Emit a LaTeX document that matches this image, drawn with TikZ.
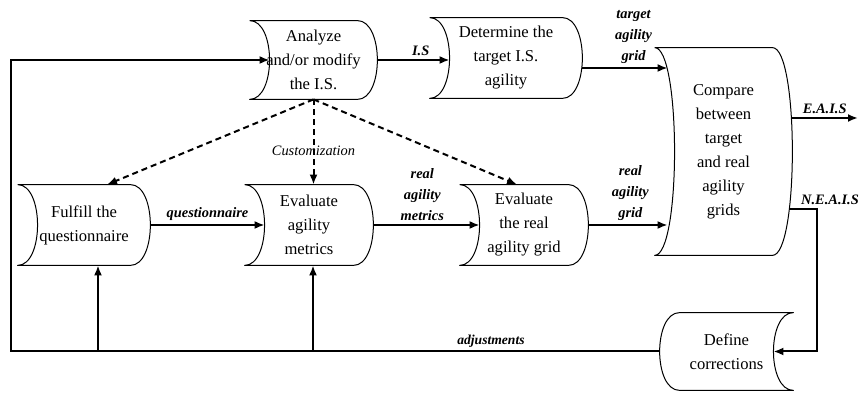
\documentclass[tikz,border=0pt]{standalone}
\usepackage{fontspec}
\setmainfont{Liberation Serif}
\usetikzlibrary{arrows.meta}
\begin{document}
\begin{tikzpicture}[x=0.5pt,y=-0.5pt]
\def\bend{10pt}
\def\ctl{13.3pt}
\tikzset{base/.style={inner ysep=0pt,inner xsep=-12pt},
proc/.style={base,align=center,font=\fontsize{8.3}{12}\selectfont},
outline/.style={draw,line width=0.5pt,line join=round},
every path/.style={>={Latex[length=5pt,width=4pt]}},
flow/.style={->,line width=1pt},
cust/.style={flow,dash pattern=on 3pt off 2pt},
lbl/.style={font=\fontsize{7.2}{10.5}\selectfont\bfseries\itshape,align=center,inner sep=1.5pt}}
\useasboundingbox (0,0) rectangle (860,394);
\node[proc,minimum width=43.5pt,minimum height=39pt] at (313.5,60) (ana) {Analyze\\and/or modify\\the I.S.};
\node[proc,minimum width=56pt,minimum height=40pt] at (506,58) (det) {Determine the\\target I.S.\\agility};
\node[proc,minimum width=48.5pt,minimum height=103.5pt] at (723.5,151.5) (cmp) {Compare\\between\\target\\and real\\agility\\grids};
\node[proc,minimum width=46pt,minimum height=40pt] at (84,225) (ful) {Fulfill the\\questionnaire};
\node[proc,minimum width=44pt,minimum height=40pt] at (309,225) (evm) {Evaluate\\agility\\metrics};
\node[proc,minimum width=44pt,minimum height=40pt] at (524,225) (evg) {Evaluate\\the real\\agility grid};
\node[proc,minimum width=46.5pt,minimum height=38.5pt] at (726.5,351.5) (def) {Define\\corrections};
% outlines
\foreach \n in {ana,det,cmp,ful,evm,evg}
\draw[outline] ([xshift=-\bend]\n.north west) -- (\n.north east)
  .. controls +(\ctl,0) and +(\ctl,0) .. (\n.south east)
  -- ([xshift=-\bend]\n.south west)
  .. controls +(\ctl,0) and +(\ctl,0) .. ([xshift=-\bend]\n.north west);
\draw[outline] (def.north west) -- ([xshift=\bend]def.north east)
  .. controls +(-\ctl,0) and +(-\ctl,0) .. ([xshift=\bend]def.south east)
  -- (def.south west)
  .. controls +(-\ctl,0) and +(-\ctl,0) .. (def.north west);
\coordinate (adjL) at (11,351.5);
\coordinate (eais) at (858,118);
\coordinate (neais) at (817,209);
% flows
\draw[flow] ([xshift=\bend]ana.east) -- node[lbl,above,pos=.6]{I.S} (ana.east -| det.west);
\draw[flow] ([xshift=\bend,yshift=-5pt]det.east) -- node[lbl,above,pos=.6]{target\\agility\\grid} ([xshift=-3.5pt,yshift=-5pt]det.east -| cmp.west);
\draw[flow] ([xshift=\bend]ful.east) -- node[lbl,above]{questionnaire} (evm.west);
\draw[flow] ([xshift=\bend]evm.east) -- node[lbl,above,pos=.46]{real\\agility\\metrics} (evg.west);
\draw[flow] ([xshift=\bend]evg.east) -- node[lbl,above,pos=.53]{real\\agility\\grid} ([xshift=-3.5pt]evg.east -| cmp.west);
\draw[flow] ([xshift=9.5pt]cmp.east |- eais) -- node[lbl,above]{E.A.I.S} (eais);
\draw[flow] ([xshift=8.5pt]cmp.east |- neais) -- (neais) node[lbl,above,xshift=6.5pt]{N.E.A.I.S} |- (def.east);
\draw[flow] ([xshift=-\bend]def.west) -- node[lbl,above,pos=.26,font=\fontsize{6.8}{9}\selectfont\bfseries\itshape]{adjustments} (adjL) |- (ana.west);
\draw[flow] ([xshift=7pt]ful.south |- adjL) -- ([xshift=7pt]ful.south);
\draw[flow] ([xshift=2pt]evm.south |- adjL) -- ([xshift=2pt]evm.south);
% customization
\draw[cust] (ana.south) -- ([xshift=11.5pt]ful.north);
\draw[cust] (ana.south) -- node[pos=.6,font=\fontsize{7.2}{9}\selectfont\itshape]{Customization} (ana.south |- evm.north);
\draw[cust] (ana.south) -- ([xshift=-3.5pt]evg.north);
\end{tikzpicture}
\end{document}
